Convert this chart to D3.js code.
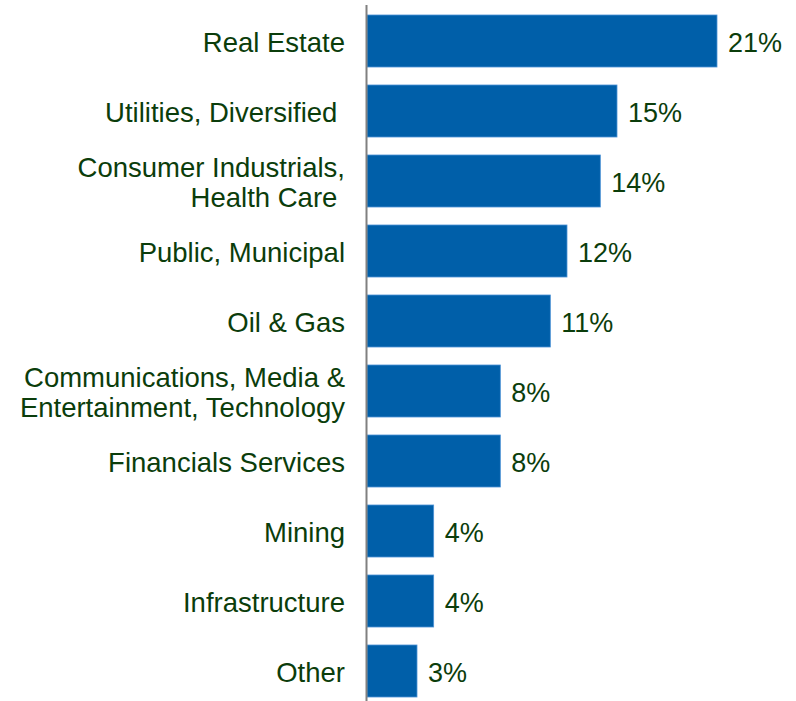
<!DOCTYPE html>
<html>
<head>
<meta charset="utf-8">
<script src="https://cdn.jsdelivr.net/npm/d3@7"></script>
<style>
  body { margin: 0; background: #fff; }
  text { font-family: "Liberation Sans", Arial, sans-serif; fill: #0b3d0b; white-space: pre; }
</style>
</head>
<body>
<script>
// sectors, top to bottom (multi-line labels split with "|")
var categories = [
  "Real Estate",
  "Utilities, Diversified ",
  "Consumer Industrials,|Health Care ",
  "Public, Municipal",
  "Oil & Gas",
  "Communications, Media &|Entertainment, Technology",
  "Financials Services",
  "Mining",
  "Infrastructure",
  "Other"
];
var values = [21, 15, 14, 12, 11, 8, 8, 4, 4, 3];

var w = 796;
var h = 701;

var svg = d3.select("body")
            .append("svg")
            .attr("width", w)
            .attr("height", h);

var x = d3.scaleLinear()
          .domain([0, 21])
          .range([367, 717]);

var y = d3.scaleBand()
          .domain(categories)
          .range([6, 706])
          .paddingInner(0.257)
          .paddingOuter(0.1285);

// bars
svg.selectAll("rect")
   .data(values)
   .enter()
   .append("rect")
   .attr("x", x(0))
   .attr("y", function(d, i){ return y(categories[i]); })
   .attr("width", function(d){ return x(d) - x(0); })
   .attr("height", y.bandwidth())
   .attr("fill", "#005fa9")
   .attr("stroke", "#4d93d6")
   .attr("stroke-width", 0.8);

// axis line
svg.append("line")
   .attr("x1", x(0) - 0.5)
   .attr("x2", x(0) - 0.5)
   .attr("y1", 5)
   .attr("y2", h)
   .attr("stroke", "#808080")
   .attr("stroke-width", 2);

// category labels
var lineH = 30;
svg.selectAll(".cat")
   .data(categories)
   .enter()
   .append("text")
   .attr("class", "cat")
   .attr("text-anchor", "end")
   .attr("font-size", 27.5)
   .each(function(d){
     var lines = d.split("|");
     var cy = y(d) + y.bandwidth() / 2 + 1.5;
     var t = d3.select(this);
     lines.forEach(function(l, k){
       t.append("tspan")
        .attr("x", 345)
        .attr("y", cy + (k - (lines.length - 1) / 2) * lineH)
        .attr("dy", "0.35em")
        .text(l);
     });
   });

// value labels
svg.selectAll(".val")
   .data(values)
   .enter()
   .append("text")
   .attr("class", "val")
   .attr("font-size", 27)
   .attr("x", function(d){ return x(d) + 11; })
   .attr("y", function(d, i){ return y(categories[i]) + y.bandwidth() / 2 + 2; })
   .attr("dy", "0.35em")
   .text(function(d){ return d + "%"; });
</script>
</body>
</html>
